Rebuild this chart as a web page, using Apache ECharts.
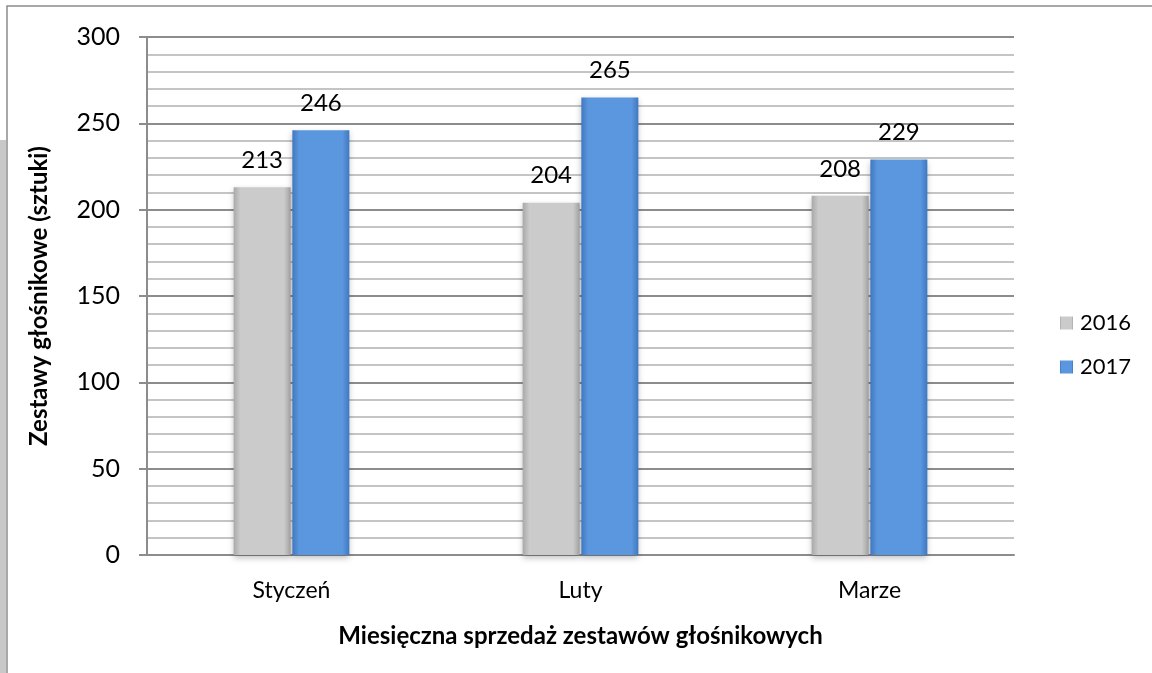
<!DOCTYPE html>
<html>
<head>
<meta charset="utf-8">
<script src="https://cdn.jsdelivr.net/npm/echarts@6/dist/echarts.min.js"></script>
<style>
html,body{margin:0;padding:0;background:#fff;}
#main{width:1152px;height:673px;}
</style>
</head>
<body>
<div id="main"></div>
<script>
var categories = ['Styczeń', 'Luty', 'Marze'];
var values2016 = [213, 204, 208];
var values2017 = [246, 265, 229];
var seriesNames = ['2016', '2017'];

var myChart = echarts.init(document.getElementById('main'));

function barGradient(edge, mid) {
    return new echarts.graphic.LinearGradient(0, 0, 1, 0, [
        {offset: 0, color: edge},
        {offset: 0.12, color: mid},
        {offset: 0.88, color: mid},
        {offset: 1, color: edge}
    ]);
}

var font = 'Lato, "Open Sans", sans-serif';

option = {
    animation: false,
    textStyle: {fontFamily: font},
    graphic: [
        {type: 'rect', shape: {x: 7, y: 6, width: 1160, height: 700}, style: {fill: 'none', stroke: '#8c8c8c', lineWidth: 1.5}},
        {type: 'rect', shape: {x: 0, y: 140, width: 6, height: 540}, style: {fill: '#c8c8c8'}}
    ],
    legend: {
        orient: 'vertical',
        left: 1055,
        top: 307,
        itemWidth: 13,
        itemHeight: 13,
        itemGap: 22,
        icon: 'rect',
        textStyle: {fontSize: 22, color: '#000', fontFamily: font, padding: [0, 0, 0, 2]},
        data: seriesNames
    },
    grid: {
        left: 147,
        right: 138,
        top: 37,
        bottom: 118
    },
    xAxis: {
        type: 'category',
        data: categories,
        name: 'Miesięczna sprzedaż zestawów głośnikowych',
        nameLocation: 'middle',
        nameGap: 69,
        nameTextStyle: {fontSize: 24, fontWeight: 'bold', color: '#000', fontFamily: font},
        axisLine: {lineStyle: {color: '#8c8c8c', width: 2}},
        axisTick: {show: false},
        axisLabel: {fontSize: 23, color: '#000', margin: 24, fontFamily: font}
    },
    yAxis: {
        type: 'value',
        min: 0,
        max: 300,
        interval: 50,
        name: 'Zestawy głośnikowe (sztuki)',
        nameLocation: 'middle',
        nameRotate: 90,
        nameGap: 96,
        nameTextStyle: {fontSize: 24, fontWeight: 'bold', color: '#000', fontFamily: font},
        axisLine: {show: true, lineStyle: {color: '#8c8c8c', width: 2}},
        axisTick: {show: true, length: 8, lineStyle: {color: '#8c8c8c', width: 2}},
        axisLabel: {fontSize: 25, color: '#000', margin: 27, fontFamily: font},
        splitLine: {lineStyle: {color: '#8c8c8c', width: 2}},
        minorTick: {show: false, splitNumber: 5},
        minorSplitLine: {show: true, lineStyle: {color: '#c4c4c4', width: 2}}
    },
    series: [
        {
            name: seriesNames[0],
            type: 'bar',
            data: values2016,
            barWidth: 57,
            barGap: '3%',
            itemStyle: {
                color: barGradient('#a9a9a9', '#cbcbcb'),
                shadowColor: 'rgba(0,0,0,0.25)',
                shadowBlur: 6,
                shadowOffsetY: 3
            },
            label: {show: true, position: 'top', distance: 15, fontSize: 24, color: '#000', fontFamily: font}
        },
        {
            name: seriesNames[1],
            type: 'bar',
            data: values2017,
            barWidth: 57,
            itemStyle: {
                color: barGradient('#3f78c0', '#5b97de'),
                shadowColor: 'rgba(0,0,0,0.25)',
                shadowBlur: 6,
                shadowOffsetY: 3
            },
            label: {show: true, position: 'top', distance: 15, fontSize: 24, color: '#000', fontFamily: font}
        }
    ]
};

myChart.setOption(option);
</script>
</body>
</html>
